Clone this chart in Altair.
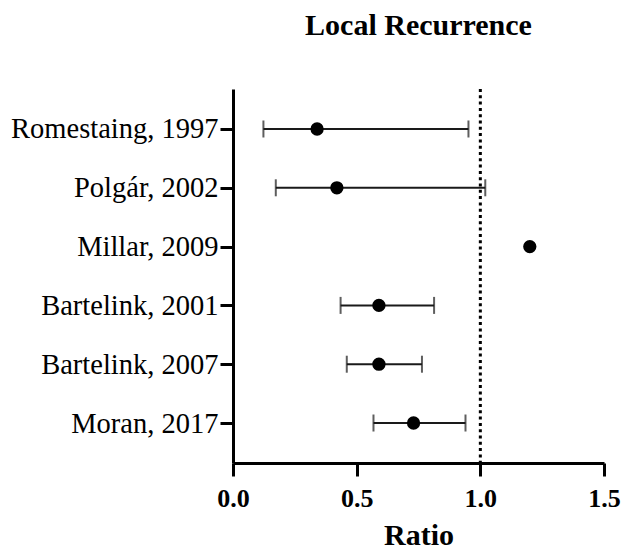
import altair as alt
import pandas as pd

studies = ["Romestaing, 1997", "Polgár, 2002", "Millar, 2009",
           "Bartelink, 2001", "Bartelink, 2007", "Moran, 2017"]
ratio = [0.34, 0.42, 1.20, 0.59, 0.59, 0.73]
ci_studies = ["Romestaing, 1997", "Polgár, 2002",
              "Bartelink, 2001", "Bartelink, 2007", "Moran, 2017"]
ci_lower = [0.123, 0.173, 0.435, 0.46, 0.568]
ci_upper = [0.952, 1.02, 0.813, 0.764, 0.94]
x_ticks = [0.0, 0.5, 1.0, 1.5]
reference = [1.0]

df = pd.DataFrame({"study": studies, "ratio": ratio})
ci = pd.DataFrame({"study": ci_studies, "lo": ci_lower, "hi": ci_upper})
ref = pd.DataFrame({"ref": reference})

FONT = "Liberation Serif"

yenc = alt.Y("study:N", sort=studies,
             scale=alt.Scale(type="point", padding=0.68),
             axis=alt.Axis(title=None, labelFontSize=28.5, labelFont=FONT,
                           labelColor="black", labelLimit=0, tickSize=13,
                           labelPadding=2,
                           domainWidth=3, tickWidth=3, domainColor="black",
                           tickColor="black", grid=False))

xscale = alt.Scale(domain=[0, 1.5], nice=False)
xaxis = alt.Axis(values=x_ticks, format=".1f", title="Ratio",
                 labelFontSize=26, labelFontWeight="bold", labelFont=FONT,
                 labelColor="black", labelFlush=False, labelPadding=9,
                 tickSize=13, tickWidth=3, domainWidth=3,
                 domainColor="black", tickColor="black", grid=False,
                 titleFont=FONT, titleFontSize=30, titleFontWeight="bold",
                 titleColor="black", titlePadding=9)

rule = alt.Chart(ref).mark_rule(strokeDash=[3, 3.3], strokeWidth=3,
                                color="black").encode(
    x=alt.X("ref:Q", scale=xscale, axis=xaxis))

bars = alt.Chart(ci).mark_rule(strokeWidth=2, color="#1a1a1a").encode(
    x=alt.X("lo:Q", scale=xscale, axis=xaxis), x2="hi:Q", y=yenc)

cap_lo = alt.Chart(ci).mark_tick(size=17, thickness=2, color="#1a1a1a",
                                 orient="vertical").encode(
    x=alt.X("lo:Q", scale=xscale, axis=xaxis), y=yenc)
cap_hi = alt.Chart(ci).mark_tick(size=17, thickness=2, color="#1a1a1a",
                                 orient="vertical").encode(
    x=alt.X("hi:Q", scale=xscale, axis=xaxis), y=yenc)

points = alt.Chart(df).mark_point(filled=True, size=177, opacity=1,
                                  color="black").encode(
    x=alt.X("ratio:Q", scale=xscale, axis=xaxis), y=yenc)

chart = alt.layer(rule, bars, cap_lo, cap_hi, points).properties(
    width=371, height=374,
    autosize=alt.AutoSizeParams(type="none"),
    padding={"left": 225, "top": 81, "right": 17, "bottom": 88},
    title=alt.TitleParams("Local Recurrence", font=FONT, fontSize=30,
                          fontWeight="bold", color="black",
                          baseline="alphabetic", offset=23,
                          anchor="middle"),
).configure_view(stroke=None)

chart.save("out.html", embed_options={"renderer": "svg", "actions": False})
